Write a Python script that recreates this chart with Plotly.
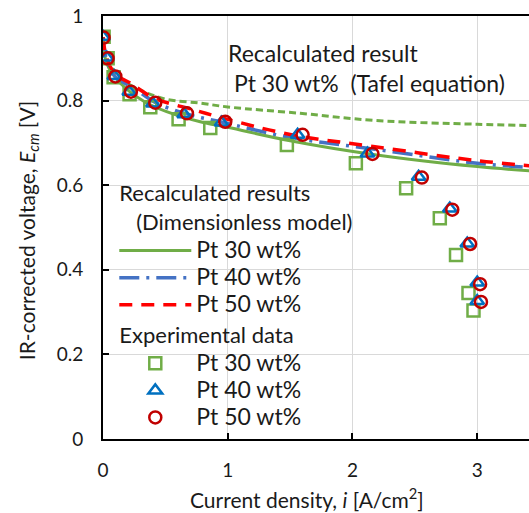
import plotly.graph_objects as go

# Model curves (Dimensionless model)
x_m30 = [0, 0.03, 0.14, 0.33, 0.51, 0.78, 1.0, 1.5, 2.18, 3.0, 3.42]
y_m30 = [0.95, 0.888, 0.841, 0.798, 0.774, 0.750, 0.737, 0.705, 0.672, 0.644, 0.634]
x_m40 = [0, 0.03, 0.10, 0.25, 0.43, 0.70, 0.94, 1.5, 2.18, 3.0, 3.42]
y_m40 = [0.95, 0.895, 0.856, 0.829, 0.794, 0.766, 0.750, 0.713, 0.685, 0.652, 0.642]
x_m50 = [0, 0.03, 0.10, 0.22, 0.41, 0.73, 0.97, 1.5, 2.18, 3.0, 3.42]
y_m50 = [0.95, 0.90, 0.862, 0.841, 0.806, 0.778, 0.758, 0.720, 0.691, 0.658, 0.646]
# Tafel equation curve (Pt 30 wt%)
x_tafel = [0, 0.03, 0.14, 0.33, 0.51, 0.78, 1.0, 1.58, 2.18, 3.0, 3.42]
y_tafel = [0.95, 0.90, 0.853, 0.821, 0.803, 0.794, 0.785, 0.770, 0.753, 0.744, 0.741]

# Experimental data
x_e30 = [0.005, 0.037, 0.085, 0.213, 0.379, 0.606, 0.86, 1.474, 2.027, 2.43, 2.70, 2.83, 2.93, 2.97]
y_e30 = [0.951, 0.900, 0.855, 0.815, 0.784, 0.756, 0.735, 0.695, 0.652, 0.593, 0.522, 0.435, 0.345, 0.304]
x_e40 = [0.0, 0.03, 0.09, 0.21, 0.40, 0.65, 0.95, 1.56, 2.12, 2.53, 2.78, 2.92, 3.00, 3.00]
y_e40 = [0.951, 0.902, 0.858, 0.821, 0.793, 0.768, 0.748, 0.719, 0.675, 0.620, 0.545, 0.462, 0.370, 0.326]
x_e50 = [0.005, 0.037, 0.099, 0.224, 0.419, 0.673, 0.98, 1.60, 2.16, 2.556, 2.80, 2.943, 3.023, 3.03]
y_e50 = [0.949, 0.900, 0.857, 0.821, 0.795, 0.770, 0.750, 0.719, 0.674, 0.618, 0.542, 0.461, 0.366, 0.324]

x_ticks = [0, 1, 2, 3]
y_ticks = [0, 0.2, 0.4, 0.6, 0.8, 1]
y_tick_labels = ["0", "0.2", "0.4", "0.6", "0.8", "1"]

FONT = "Lato"
TXT = "#1a1a1a"
GREEN = "#70AD47"
BLUE = "#4472C4"
RED = "#FF0000"
LFS = 23

# plot-area geometry (px) used to place texts
PL, PR, PT, PB = 102.7, 529.0, 16.0, 439.3
def px_x(p):
    return (p - PL) / (PR - PL)
def px_y(p):
    return (PB - p) / (PB - PT)

def big(t):
    return '<span style="font-size:%dpx">%s</span>' % (LFS, t)

fig = go.Figure()

fig.add_trace(go.Scatter(x=x_tafel, y=y_tafel, mode="lines", line_shape="spline",
                         line=dict(color=GREEN, width=3, dash="7px,4px"), showlegend=False))
fig.add_trace(go.Scatter(x=x_m30, y=y_m30, mode="lines", line_shape="spline", name=big("Pt 30 wt%"),
                         line=dict(color=GREEN, width=3), legendgroup="model",
                         legendgrouptitle=dict(text="Recalculated results<br>\u00a0\u00a0\u00a0(Dimensionless model)")))
fig.add_trace(go.Scatter(x=x_m40, y=y_m40, mode="lines", line_shape="spline", name=big("Pt 40 wt%"),
                         line=dict(color=BLUE, width=3.5, dash="20px,7px,3px,7px"), legendgroup="model"))
fig.add_trace(go.Scatter(x=x_m50, y=y_m50, mode="lines", line_shape="spline", name=big("Pt 50 wt%"),
                         line=dict(color=RED, width=3.5, dash="13px,9px"), legendgroup="model"))

fig.add_trace(go.Scatter(x=x_e30, y=y_e30, mode="markers", name=big("Pt 30 wt%"), legendgroup="exp",
                         legendgrouptitle=dict(text="Experimental data"),
                         marker=dict(symbol="square-open", size=12, color=GREEN, line=dict(width=2.5))))
fig.add_trace(go.Scatter(x=x_e40, y=y_e40, mode="markers", name=big("Pt 40 wt%"), legendgroup="exp",
                         marker=dict(symbol="triangle-up-open", size=12, color="#0070C0", line=dict(width=2.5))))
fig.add_trace(go.Scatter(x=x_e50, y=y_e50, mode="markers", name=big("Pt 50 wt%"), legendgroup="exp",
                         marker=dict(symbol="circle-open", size=12, color="#C00000", line=dict(width=2.5))))

fig.add_annotation(xref="paper", yref="paper", x=px_x(226), y=px_y(37),
                   xanchor="left", yanchor="top", align="left", showarrow=False,
                   text="Recalculated result<br>\u00a0Pt 30 wt%\u00a0 (Tafel equation)",
                   font=dict(family=FONT, size=LFS, color=TXT))

# axis titles
fig.add_annotation(xref="paper", yref="paper", x=px_x(306.5), y=px_y(498),
                   xanchor="center", yanchor="middle", showarrow=False,
                   text="Current density, <i>i</i> [A/cm<sup>2</sup>]",
                   font=dict(family=FONT, size=21, color=TXT))
fig.add_annotation(xref="paper", yref="paper", x=px_x(27), y=px_y(231),
                   xanchor="center", yanchor="middle", showarrow=False, textangle=-90,
                   text="IR-corrected voltage, <i>E</i><sub><i>cm</i></sub> [V]",
                   font=dict(family=FONT, size=21, color=TXT))

fig.update_layout(
    width=529, height=513,
    margin=dict(l=103, r=0, t=16, b=74, autoexpand=False),
    paper_bgcolor="white", plot_bgcolor="white",
    font=dict(family=FONT, size=20, color=TXT),
    legend=dict(xref="paper", yref="paper", x=px_x(114), y=px_y(172),
                xanchor="left", yanchor="top", bgcolor="rgba(0,0,0,0)",
                font=dict(family=FONT, size=18.5, color=TXT), tracegroupgap=0,
                itemwidth=72, traceorder="grouped",
                grouptitlefont=dict(family=FONT, size=22, color=TXT)),
    xaxis=dict(range=[0, 3.415], tickvals=x_ticks, ticks="inside", ticklen=6, tickwidth=1.5,
               tickcolor="black", showline=True, linecolor="black", linewidth=2, mirror=True,
               showgrid=True, gridcolor="#d9d9d9", gridwidth=1, zeroline=False,
               tickfont=dict(family=FONT, size=19, color=TXT), ticklabelstandoff=13),
    yaxis=dict(range=[0, 1], tickvals=y_ticks, ticktext=y_tick_labels, ticks="inside", ticklen=6,
               tickwidth=1.5, tickcolor="black", showline=True, linecolor="black", linewidth=2,
               showgrid=True, gridcolor="#d9d9d9", gridwidth=1, zeroline=False,
               tickfont=dict(family=FONT, size=19, color=TXT), ticklabelstandoff=14),
)

fig.write_html("out.html")
